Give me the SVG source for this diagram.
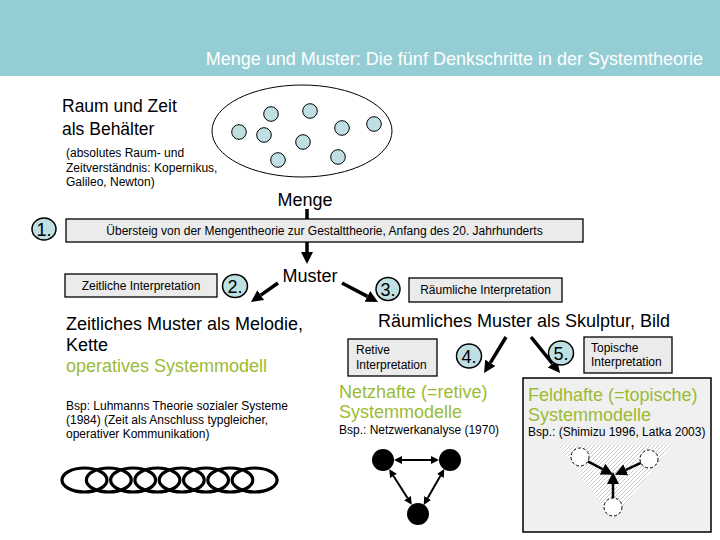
<svg xmlns="http://www.w3.org/2000/svg" width="720" height="540" viewBox="0 0 720 540">
<style>
text{font-family:"Liberation Sans",Arial,sans-serif;fill:#000}
.big{font-size:18px}
.med{font-size:17.5px}
.sm{font-size:12px}
.green{fill:#9BBB34;font-size:18px}
.box{fill:#EBEBEB;stroke:#000;stroke-width:1.3}
.num{fill:#BFE0E3;stroke:#000;stroke-width:1.5}
.numt{font-size:18px;text-anchor:middle}
.dot{fill:#BFE0E3;stroke:#000;stroke-width:1}
.thick{stroke:#000;stroke-width:3.5;fill:none;marker-end:url(#ah)}
.thin{stroke:#000;stroke-width:2;fill:none;marker-end:url(#as);marker-start:url(#as)}
.mid{stroke:#000;stroke-width:2.5;fill:none;marker-end:url(#am)}
.link{fill:none;stroke:#000;stroke-width:3.2}
.dash{fill:#fff;stroke:#000;stroke-width:1;stroke-dasharray:3 2}
</style>
<defs>
<marker id="ah" viewBox="0 0 12 12" refX="0" refY="6" markerWidth="12" markerHeight="12" markerUnits="userSpaceOnUse" orient="auto"><path d="M0,0 L12,6 L0,12 z" fill="#000"/></marker>
<marker id="as" viewBox="0 0 8 8" refX="0" refY="4" markerWidth="8" markerHeight="8" markerUnits="userSpaceOnUse" orient="auto-start-reverse"><path d="M0,0 L8,4 L0,8 z" fill="#000"/></marker>
<marker id="am" viewBox="0 0 12 12" refX="0" refY="6" markerWidth="12" markerHeight="12" markerUnits="userSpaceOnUse" orient="auto"><path d="M0,0 L12,6 L0,12 z" fill="#000"/></marker>
<pattern id="hatch" patternUnits="userSpaceOnUse" width="4" height="4"><rect width="4" height="4" fill="#fff"/><path d="M-1,1 L1,-1 M0,4 L4,0 M3,5 L5,3" stroke="#bcbcbc" stroke-width="0.8"/></pattern>
</defs>
<rect width="720" height="540" fill="#fff"/>
<g id="header">
<rect x="0" y="0" width="720" height="76" fill="#94CDD3"/>
<text x="703" y="65" style="font-size:18px;fill:#fff;text-anchor:end">Menge und Muster: Die fünf Denkschritte in der Systemtheorie</text>
</g>
<g id="connectors">
<line class="thick" x1="307" y1="209" x2="307" y2="252"/>
<line class="thick" x1="278" y1="283" x2="260.8" y2="295.1"/>
<line class="thick" x1="342" y1="283" x2="367.4" y2="296.4"/>
<line class="thick" x1="506" y1="337" x2="490.3" y2="362.8"/>
<line class="thick" x1="531" y1="337" x2="552.5" y2="363.7"/>
</g>
<g id="raum-zeit">
<text class="med" x="62" y="112">Raum und Zeit</text>
<text class="med" x="62" y="135">als Behälter</text>
<text class="sm" x="66" y="157">(absolutes Raum- und</text>
<text class="sm" x="66" y="172">Zeitverständnis: Kopernikus,</text>
<text class="sm" x="66" y="186">Galileo, Newton)</text>
</g>
<g id="menge-set">
<ellipse cx="302" cy="131" rx="90" ry="46" fill="#fff" stroke="#000" stroke-width="1"/>
<circle class="dot" cx="271" cy="114" r="7.3"/>
<circle class="dot" cx="310" cy="111" r="7.3"/>
<circle class="dot" cx="239" cy="132" r="7.3"/>
<circle class="dot" cx="264" cy="135" r="7.3"/>
<circle class="dot" cx="303" cy="142" r="7.3"/>
<circle class="dot" cx="278" cy="160" r="7.3"/>
<circle class="dot" cx="342" cy="128" r="7.3"/>
<circle class="dot" cx="374" cy="124" r="7.3"/>
<circle class="dot" cx="338" cy="157" r="7.3"/>
</g>
<g id="menge"><text class="big" x="305" y="206" text-anchor="middle">Menge</text></g>
<g id="step1">
<ellipse class="num" cx="44" cy="229" rx="12" ry="11"/>
<text class="numt" x="44" y="235.5">1.</text>
<rect class="box" x="66" y="219" width="517" height="23"/>
<text class="sm" x="324.5" y="235" text-anchor="middle">Übersteig von der Mengentheorie zur Gestalttheorie, Anfang des 20. Jahrhunderts</text>
</g>
<g id="muster"><text class="big" x="310" y="282" text-anchor="middle">Muster</text></g>
<g id="step2">
<rect class="box" x="65" y="274" width="152" height="23"/>
<text class="sm" x="141" y="290" text-anchor="middle">Zeitliche Interpretation</text>
<ellipse class="num" cx="235" cy="286" rx="12.5" ry="11.5"/>
<text class="numt" x="235" y="292.5">2.</text>
</g>
<g id="zeitlich">
<text class="big" x="66" y="330">Zeitliches Muster als Melodie,</text>
<text class="big" x="66" y="351">Kette</text>
<text class="green" x="66" y="372">operatives Systemmodell</text>
<text class="sm" x="66" y="410">Bsp: Luhmanns Theorie sozialer Systeme</text>
<text class="sm" x="66" y="424">(1984) (Zeit als Anschluss typgleicher,</text>
<text class="sm" x="66" y="438">operativer Kommunikation)</text>
</g>
<g id="chain">
<ellipse class="link" cx="84.5" cy="480" rx="22.5" ry="12"/>
<ellipse class="link" cx="108.8" cy="480" rx="22.5" ry="12"/>
<ellipse class="link" cx="133.1" cy="480" rx="22.5" ry="12"/>
<ellipse class="link" cx="157.4" cy="480" rx="22.5" ry="12"/>
<ellipse class="link" cx="181.7" cy="480" rx="22.5" ry="12"/>
<ellipse class="link" cx="206" cy="480" rx="22.5" ry="12"/>
<ellipse class="link" cx="230.3" cy="480" rx="22.5" ry="12"/>
<ellipse class="link" cx="254.6" cy="480" rx="22.5" ry="12"/>
</g>
<g id="step3">
<ellipse class="num" cx="388" cy="289" rx="12" ry="11.5"/>
<text class="numt" x="388" y="295.5">3.</text>
<rect class="box" x="409" y="278" width="153" height="24"/>
<text class="sm" x="485.5" y="294" text-anchor="middle">Räumliche Interpretation</text>
</g>
<g id="raeumlich"><text class="big" x="378" y="327">Räumliches Muster als Skulptur, Bild</text></g>
<g id="step4">
<rect class="box" x="348" y="339" width="89" height="37"/>
<text class="sm" x="356" y="354">Retive</text>
<text class="sm" x="356" y="369">Interpretation</text>
<ellipse class="num" cx="469" cy="356" rx="12.5" ry="12"/>
<text class="numt" x="469" y="362.5">4.</text>
</g>
<g id="netz">
<text class="green" x="339" y="398">Netzhafte (=retive)</text>
<text class="green" x="339" y="418">Systemmodelle</text>
<text class="sm" x="339" y="434">Bsp.: Netzwerkanalyse (1970)</text>
<circle cx="383" cy="460" r="11" fill="#000"/>
<circle cx="450" cy="460" r="11" fill="#000"/>
<circle cx="418" cy="514" r="11" fill="#000"/>
<line class="thin" x1="402" y1="460" x2="431" y2="460"/>
<line class="thin" x1="393.5" y1="476" x2="407.5" y2="498"/>
<line class="thin" x1="440.3" y1="476" x2="427.7" y2="498"/>
</g>
<g id="step5">
<ellipse class="num" cx="561" cy="353" rx="12.5" ry="12"/>
<text class="numt" x="561" y="359.5">5.</text>
<rect class="box" x="584" y="337" width="88" height="36"/>
<text class="sm" x="591" y="352">Topische</text>
<text class="sm" x="591" y="366">Interpretation</text>
</g>
<g id="feld">
<rect x="523" y="378" width="188" height="154" fill="#F0F0F0" stroke="#000" stroke-width="1.5"/>
<text class="green" x="528" y="401">Feldhafte (=topische)</text>
<text class="green" x="528" y="421">Systemmodelle</text>
<text class="sm" x="528" y="436">Bsp.:  (Shimizu 1996, Latka 2003)</text>
<polygon points="558,445 672,445 613,520" fill="url(#hatch)"/>
<circle class="dash" cx="580" cy="457" r="9"/>
<circle class="dash" cx="649" cy="459" r="9"/>
<circle class="dash" cx="613" cy="507" r="9"/>
<line class="mid" x1="587.9" y1="461.4" x2="602.5" y2="469.1"/>
<line class="mid" x1="640.9" y1="462.9" x2="625.8" y2="469.8"/>
<line class="mid" x1="613" y1="498" x2="613" y2="484"/>
</g>
</svg>
